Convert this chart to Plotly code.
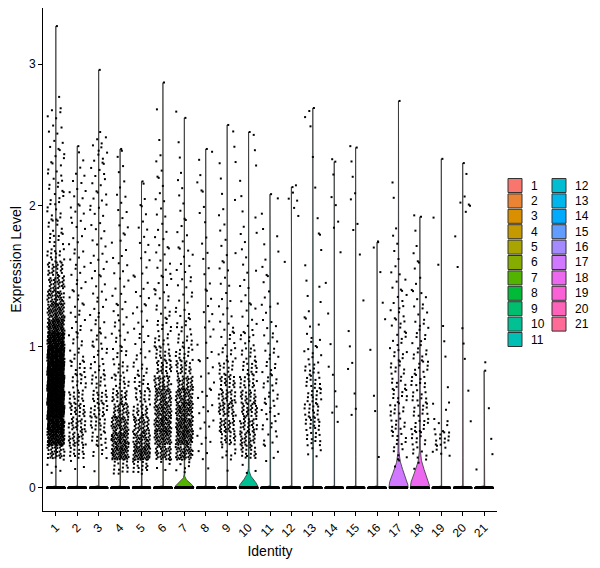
import math
import numpy as np
import plotly.graph_objects as go

# cluster identities (x categories)
identities = ['1', '2', '3', '4', '5', '6', '7', '8', '9', '10', '11',
              '12', '13', '14', '15', '16', '17', '18', '19', '20', '21']

# lower edge of each 0.1-wide expression bin
bin_starts = [0.1, 0.2, 0.3, 0.4, 0.5, 0.6, 0.7, 0.8, 0.9, 1.0, 1.1, 1.2, 1.3, 1.4, 1.5, 1.6,
              1.7, 1.8, 1.9, 2.0, 2.1, 2.2, 2.3, 2.4, 2.5, 2.6, 2.7, 2.8, 2.9, 3.0, 3.1, 3.2]

# number of expressing cells per bin
counts_1 = [4, 35, 105, 130, 150, 160, 160, 150, 140, 115, 80, 55, 42, 32, 24, 15, 10, 8, 8, 8, 7, 6, 5, 4, 4, 5, 1]
counts_2 = [3, 15, 25, 25, 20, 16, 12, 10, 8, 7, 6, 6, 5, 5, 5, 5, 4, 4, 5, 4, 4, 3, 2]
counts_3 = [1, 7, 12, 16, 18, 16, 12, 9, 8, 7, 6, 5, 5, 4, 4, 4, 4, 4, 5, 5, 4, 5, 6, 5, 1]
counts_4 = [15, 60, 60, 45, 32, 22, 14, 10, 8, 6, 6, 5, 4, 4, 4, 3, 3, 3, 3, 3, 2, 2, 2]
counts_5 = [18, 60, 45, 32, 22, 16, 11, 8, 6, 5, 4, 4, 4, 3, 3, 3, 3, 3, 2, 2, 1]
counts_6 = [5, 35, 50, 55, 50, 42, 32, 22, 15, 11, 9, 7, 6, 5, 5, 4, 4, 3, 3, 3, 2, 2, 2, 1, 0, 1]
counts_7 = [6, 45, 60, 60, 55, 45, 32, 22, 14, 10, 8, 6, 5, 5, 4, 4, 3, 3, 2, 2, 2, 1, 1, 1, 0, 1]
counts_8 = [1, 3, 4, 4, 4, 4, 3, 3, 3, 3, 3, 3, 2, 2, 2, 2, 2, 1, 2, 1, 2, 1, 2]
counts_9 = [1, 8, 20, 26, 28, 25, 20, 13, 9, 6, 5, 4, 3, 3, 3, 3, 2, 2, 2, 2, 1, 1, 1, 1, 1]
counts_10 = [3, 20, 26, 28, 26, 22, 18, 14, 10, 8, 5, 4, 3, 3, 3, 2, 2, 2, 2, 1, 1, 1, 1, 1]
counts_11 = [1, 3, 5, 7, 8, 8, 8, 7, 6, 5, 4, 3, 3, 2, 2, 2, 2, 1, 1, 1]
counts_12 = [0, 0, 0, 0, 0, 0, 0, 0, 0, 0, 0, 0, 0, 0, 0, 1, 0, 0, 2, 3, 1]
counts_13 = [0, 4, 12, 15, 15, 14, 12, 10, 7, 5, 3, 2, 2, 2, 1, 1, 1, 1, 1, 0, 1, 0, 1, 0, 1, 2]
counts_14 = [0, 0, 0, 1, 2, 1, 0, 2, 0, 1, 0, 1, 0, 1, 0, 1, 0, 2, 0, 2, 0, 1, 1]
counts_15 = [0, 0, 0, 0, 2, 1, 0, 2, 0, 1, 1, 0, 1, 0, 0, 1, 0, 2, 0, 2, 0, 1, 1, 1]
counts_16 = [0, 1, 0, 0, 1, 1, 0, 0, 1, 0, 1, 0, 1, 0, 1, 0, 2]
counts_17 = [2, 6, 9, 10, 10, 10, 9, 9, 8, 7, 6, 6, 5, 4, 3, 2, 2, 1, 0, 1, 1]
counts_18 = [2, 7, 10, 11, 11, 10, 10, 9, 8, 7, 6, 5, 4, 3, 2, 2, 1, 1, 1]
counts_19 = [0, 6, 12, 6, 2, 1, 1, 0, 1, 1, 1, 0, 0, 0, 1, 0, 0, 0, 1]
counts_20 = [0, 0, 0, 1, 0, 1, 0, 0, 1, 1, 1, 0, 0, 0, 1, 0, 1, 0, 2, 3, 0, 1]
counts_21 = [1, 1, 1, 0, 1, 0, 0, 1]

bin_counts = [counts_1, counts_2, counts_3, counts_4, counts_5, counts_6, counts_7,
              counts_8, counts_9, counts_10, counts_11, counts_12, counts_13, counts_14,
              counts_15, counts_16, counts_17, counts_18, counts_19, counts_20, counts_21]

# highest expression value per cluster (top of each violin)
max_expr = [3.27, 2.42, 2.96, 2.40, 2.17, 2.87, 2.62, 2.40, 2.57, 2.52, 2.08,
            2.13, 2.69, 2.31, 2.41, 1.74, 2.74, 1.92, 2.33, 2.30, 0.83]

# cells with zero expression per cluster
zero_cells = [600, 600, 500, 600, 600, 600, 1500, 450, 500, 2000, 450,
              400, 450, 400, 400, 400, 900, 900, 400, 400, 400]

# kernel bandwidth used by the violin for each cluster
bandwidth = [0.005, 0.005, 0.005, 0.005, 0.005, 0.005, 0.033, 0.005, 0.005, 0.05, 0.005,
             0.005, 0.005, 0.005, 0.005, 0.005, 0.1, 0.1, 0.005, 0.005, 0.005]

FONT = "Arial, 'Liberation Sans', sans-serif"


def hue_pal(n):
    # ggplot2 default hue palette (HCL, c=100, l=65)
    out = []
    Xn, Yn, Zn = 95.047, 100.0, 108.883
    un = 4 * Xn / (Xn + 15 * Yn + 3 * Zn)
    vn = 9 * Yn / (Xn + 15 * Yn + 3 * Zn)
    for k in range(n):
        h = 15 + 360 * k / n
        L, C = 65.0, 100.0
        u = C * math.cos(math.radians(h))
        v = C * math.sin(math.radians(h))
        Y = Yn * ((L + 16) / 116) ** 3
        up = u / (13 * L) + un
        vp = v / (13 * L) + vn
        X = 9.0 * Y * up / (4 * vp)
        Z = -X / 3 - 5 * Y + 3 * Y / vp
        X, Y, Z = X / 100, Y / 100, Z / 100
        r = 3.240479 * X - 1.537150 * Y - 0.498535 * Z
        g = -0.969256 * X + 1.875992 * Y + 0.041556 * Z
        b = 0.055648 * X - 0.204043 * Y + 1.057311 * Z
        rgb = []
        for c in (r, g, b):
            c = 1.055 * c ** (1 / 2.4) - 0.055 if c > 0.0031308 else 12.92 * c
            rgb.append(int(round(min(max(c, 0), 1) * 255)))
        out.append('#%02X%02X%02X' % tuple(rgb))
    return out


def jitter(n, seed):
    # low-discrepancy 2D sequence used in place of random jitter
    i = np.arange(n) + seed
    return (0.5 + 0.7548776662466927 * i) % 1, (0.5 + 0.5698402909980532 * i) % 1


colors = hue_pal(len(identities))
fig = go.Figure()

px_all, py_all = [], []
for k, name in enumerate(identities):
    pos = k + 1
    vals = []
    xs = []
    for b, cnt in enumerate(bin_counts[k]):
        if cnt == 0:
            continue
        u, v = jitter(cnt, k * 1000 + b * 37)
        vals.extend(bin_starts[b] + 0.1 * v)
        xs.extend(pos + (u - 0.5) * 0.8)
    vals.append(max_expr[k])
    xs.append(pos + 0.05)
    vals = np.array(vals)

    # violin outline from a gaussian kernel density, scaled to width
    grid = np.linspace(0, max_expr[k], 900)
    bw = bandwidth[k]
    dens = zero_cells[k] * np.exp(-0.5 * (grid / bw) ** 2)
    dens = dens + np.exp(-0.5 * ((grid[:, None] - vals[None, :]) / bw) ** 2).sum(axis=1)
    hw = 0.45 * dens / dens.max()
    fig.add_trace(go.Scatter(
        x=np.concatenate([pos - hw, (pos + hw)[::-1]]),
        y=np.concatenate([grid, grid[::-1]]),
        fill='toself', fillcolor=colors[k], mode='lines',
        line=dict(color='#333333', width=0.8),
        hoverinfo='skip', showlegend=False
    ))

    u0, _ = jitter(zero_cells[k], k * 7919 + 11)
    px_all.extend(pos + (u0 - 0.5) * 0.8)
    py_all.extend(np.zeros(zero_cells[k]))
    px_all.extend(xs)
    py_all.extend(vals)

fig.add_trace(go.Scatter(
    x=px_all, y=py_all, mode='markers',
    marker=dict(symbol='square', size=2, color='black', line=dict(width=0)),
    hoverinfo='skip', showlegend=False
))

# page body has an 8px margin, so the figure is laid out in page pixels minus 8
OFF = 8
PL, PT, PW, PB = 43, 8, 454, 511          # plot area on the page
FIG_W, FIG_H = 584, 552
PH = PB - PT

shapes, annotations = [], []
for k, name in enumerate(identities):
    col, row = k // 11, k % 11
    left = 508 + col * 44
    cy = 185.5 + row * 15.4
    shapes.append(dict(
        type='rect', xref='paper', yref='paper',
        x0=(left - PL) / PW, x1=(left + 14 - PL) / PW,
        y0=(PB - (cy + 7)) / PH, y1=(PB - (cy - 7)) / PH,
        fillcolor=colors[k], line=dict(color='#333333', width=1)
    ))
    annotations.append(dict(
        x=(left + 21 - PL) / PW, y=(PB - cy) / PH, xref='paper', yref='paper',
        text=name, showarrow=False, xanchor='left', yanchor='middle',
        font=dict(family=FONT, size=12, color='black')
    ))

px_per_unit = 508 / 3.597
y_low = -0.1635
y_high = y_low + PH / px_per_unit

fig.update_layout(
    width=FIG_W, height=FIG_H,
    margin=dict(l=PL - OFF, r=FIG_W - (PL - OFF) - PW, t=PT - OFF, b=FIG_H - (PB - OFF)),
    plot_bgcolor='white', paper_bgcolor='white',
    shapes=shapes, annotations=annotations,
    xaxis=dict(
        range=[0.4, 21.6], tickmode='array', automargin=False,
        tickvals=list(range(1, len(identities) + 1)), ticktext=identities,
        tickangle=-45, showgrid=False, zeroline=False,
        showline=True, linecolor='black', linewidth=1,
        ticks='outside', ticklen=4, tickcolor='black',
        tickfont=dict(family=FONT, size=12, color='black'),
        title=dict(text='Identity', font=dict(family=FONT, size=14, color='black'), standoff=6)
    ),
    yaxis=dict(
        range=[y_low, y_high], tickvals=[0, 1, 2, 3], automargin=False,
        showgrid=False, zeroline=False,
        showline=True, linecolor='black', linewidth=1,
        ticks='outside', ticklen=4, tickcolor='black',
        tickfont=dict(family=FONT, size=12, color='black'),
        title=dict(text='Expression Level', font=dict(family=FONT, size=14, color='black'), standoff=6)
    )
)

fig.write_html("out.html")
